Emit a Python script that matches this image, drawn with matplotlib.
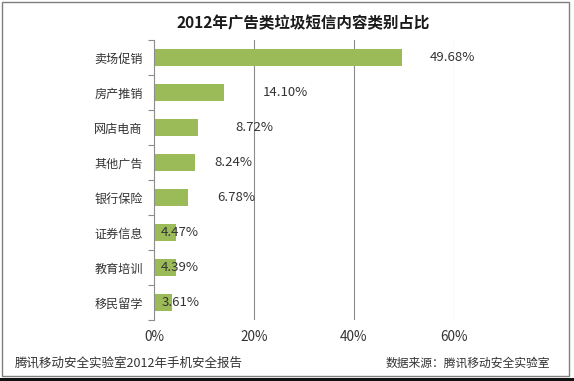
import matplotlib
matplotlib.use('Agg')
import matplotlib.pyplot as plt
from matplotlib.patches import Rectangle

plt.rcParams['font.family'] = ['Noto Sans CJK SC', 'DejaVu Sans']

# data
categories = ['卖场促销', '房产推销', '网店电商', '其他广告', '银行保险', '证券信息', '教育培训', '移民留学']
shares = [49.68, 14.10, 8.72, 8.24, 6.78, 4.47, 4.39, 3.61]
value_labels = ['49.68%', '14.10%', '8.72%', '8.24%', '6.78%', '4.47%', '4.39%', '3.61%']
x_ticks = [0, 20, 40, 60]
x_tick_labels = ['0%', '20%', '40%', '60%']
title = '2012年广告类垃圾短信内容类别占比'
footer_left = '腾讯移动安全实验室2012年手机安全报告'
footer_right = '数据来源：腾讯移动安全实验室'

# where the value labels were placed by hand in the original (x, in %)
label_x = [55.2, 21.8, 16.2, 12.0, 12.7, 1.4, 1.3, 1.5]

text_col = '#333333'
grid_col = '#8c8c8c'

fig = plt.figure(figsize=(5.74, 3.81), dpi=100)
ax = fig.add_axes([0.2683, 0.160, 0.5226, 0.735])

ypos = list(range(len(categories)))
ax.barh(ypos, shares, height=0.5, color='#9bbb59', zorder=2)

for y, xl, lab in zip(ypos, label_x, value_labels):
    ax.text(xl, y, lab, ha='left', va='center', fontsize=9.5, color=text_col, zorder=3)

ax.set_xlim(0, 60)
ax.set_ylim(len(categories) - 0.5, -0.5)
ax.set_xticks(x_ticks)
ax.set_xticklabels(x_tick_labels, fontsize=9.8, color=text_col)
ax.set_yticks(ypos)
ax.set_yticklabels(categories, fontsize=8.7, color=text_col)
ax.set_yticks([i - 0.5 for i in range(len(categories) + 1)], minor=True)

ax.tick_params(axis='x', length=0, pad=7)
ax.tick_params(axis='y', which='major', length=0, pad=8)
ax.tick_params(axis='y', which='minor', length=4, color=grid_col, width=0.8)

for s in ['top', 'right', 'bottom']:
    ax.spines[s].set_visible(False)
ax.spines['left'].set_color(grid_col)
ax.spines['left'].set_linewidth(0.8)

for xv in x_ticks[1:]:
    ax.axvline(xv, color=grid_col, linewidth=0.8, zorder=1)

fig.text(0.528, 0.94, title, ha='center', va='center', fontsize=11.2,
         fontweight='bold', color='#1a1a1a')
fig.text(0.026, 0.047, footer_left, ha='left', va='center', fontsize=9, color=text_col)
fig.text(0.958, 0.047, footer_right, ha='right', va='center', fontsize=8.5, color=text_col)

# outer frame of the original picture
fig.patches.append(Rectangle((0.003, 0.012), 0.988, 0.983, transform=fig.transFigure,
                             fill=False, edgecolor='#7f7f7f', linewidth=1.0))
fig.patches.append(Rectangle((0.0, 0.0), 1.0, 0.009, transform=fig.transFigure,
                             facecolor='#111111', edgecolor='none'))

fig.savefig('out.png', dpi=100)
